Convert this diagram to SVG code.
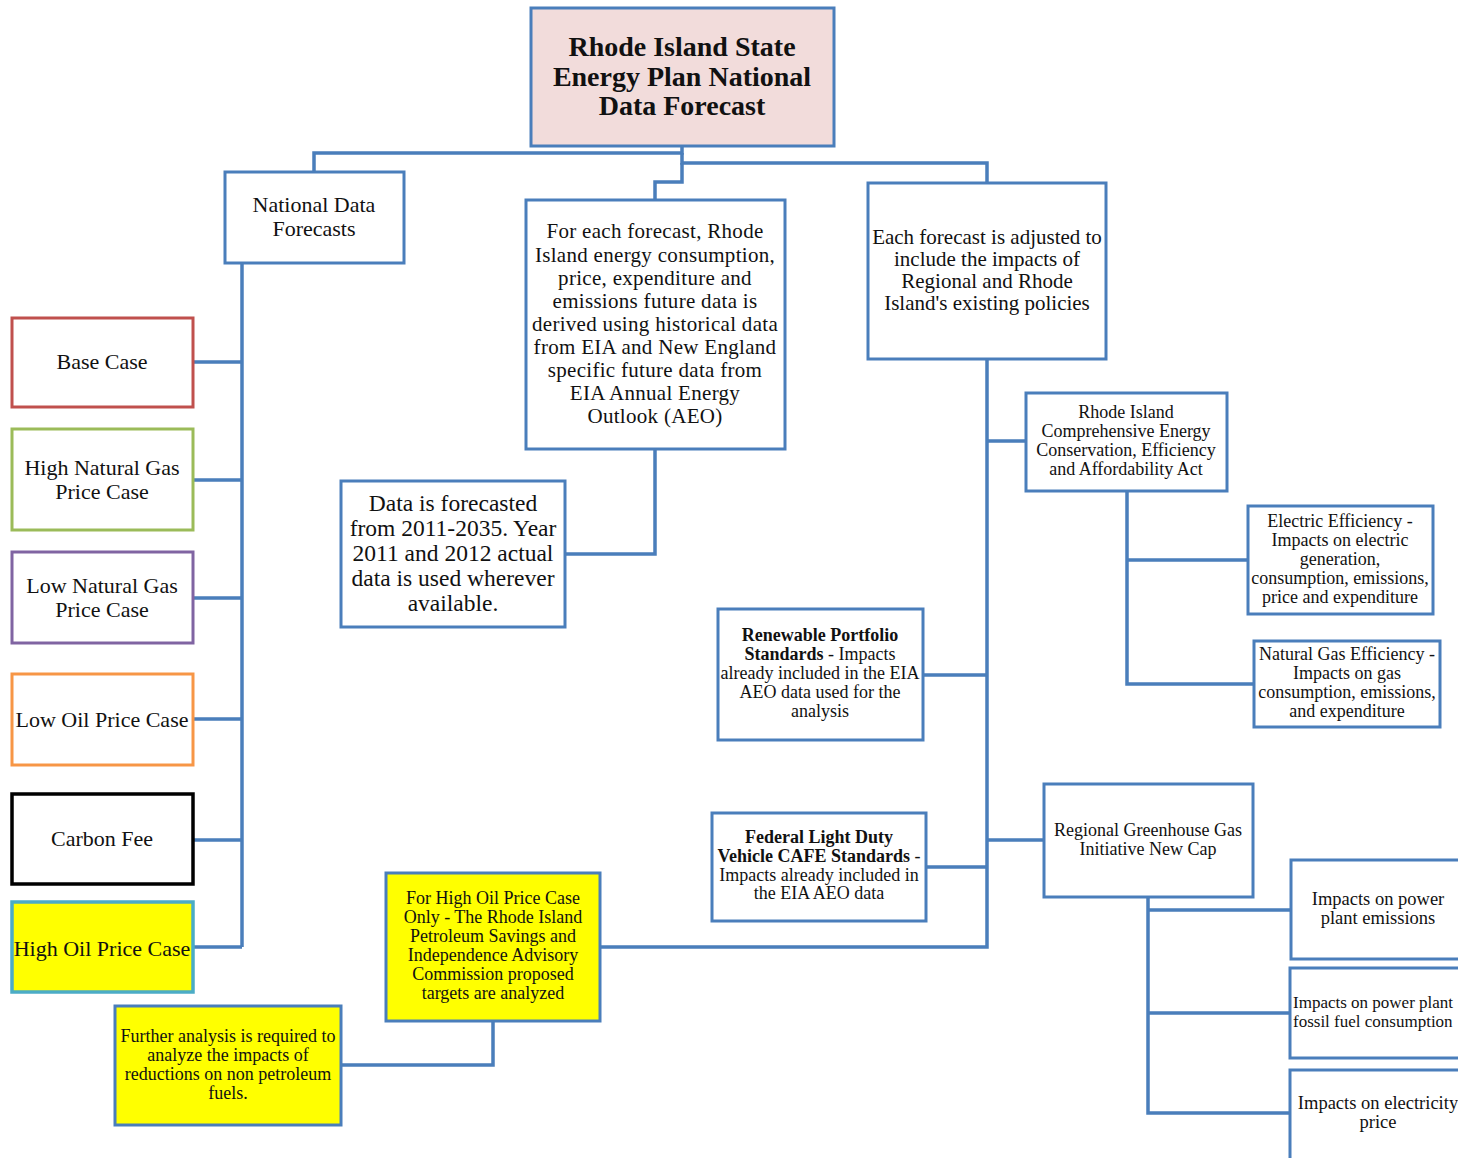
<svg xmlns="http://www.w3.org/2000/svg" width="1458" height="1158" viewBox="0 0 1458 1158">
<style>
.b{fill:#fff;stroke:#4A7EBB;stroke-width:3}
.y{fill:#FFFF00}
.c{fill:none;stroke:#4A7EBB;stroke-width:3.5;stroke-linejoin:miter}
text{font-family:"Liberation Serif","DejaVu Serif",serif;fill:#111;text-anchor:middle;dominant-baseline:central}
.t{font-size:28px;font-weight:bold}
.m{font-size:21px;letter-spacing:0.3px}
.r{font-size:21px}
.l{font-size:22px}
.s{font-size:18px}
.p{font-size:18.5px}
.q{font-size:17px;text-anchor:start}
.k{font-weight:bold}
</style>
<rect width="1458" height="1158" fill="#fff"/>
<g id="connectors">
<path class="c" d="M682,146V153H314V172"/>
<path class="c" d="M682,153V163H987V183"/>
<path class="c" d="M682,163V182H655V200"/>
<path class="c" d="M242,263V947"/>
<path class="c" d="M193,362H242M193,480H242M193,598H242M193,719H242M193,840H242M193,947H242"/>
<path class="c" d="M655,449V554H565"/>
<path class="c" d="M987,359V947H600"/>
<path class="c" d="M987,441H1026M923,675H987M987,840H1044M926,867H987"/>
<path class="c" d="M1127,491V684H1254M1127,560H1248"/>
<path class="c" d="M1148,897V1113H1290M1148,910H1291M1148,1013H1290"/>
<path class="c" d="M493,1021V1065H341"/>
</g>
<g id="title">
<rect x="531" y="8" width="303" height="138" fill="#F2DCDB" stroke="#4A7EBB" stroke-width="3"/>
<text class="t" x="682" y="46">Rhode Island State</text>
<text class="t" x="682" y="76">Energy Plan National</text>
<text class="t" x="682" y="105">Data Forecast</text>
</g>
<g id="national">
<rect class="b" x="225" y="172" width="179" height="91"/>
<text class="l" x="314" y="204">National Data</text>
<text class="l" x="314" y="228">Forecasts</text>
</g>
<g id="method">
<rect class="b" x="526" y="200" width="259" height="249"/>
<text class="m" x="655" y="231">For each forecast, Rhode</text>
<text class="m" x="655" y="255">Island energy consumption,</text>
<text class="m" x="655" y="278">price, expenditure and</text>
<text class="m" x="655" y="301">emissions future data is</text>
<text class="m" x="655" y="324">derived using historical data</text>
<text class="m" x="655" y="347">from EIA and New England</text>
<text class="m" x="655" y="370">specific future data from</text>
<text class="m" x="655" y="393">EIA Annual Energy</text>
<text class="m" x="655" y="416">Outlook (AEO)</text>
</g>
<g id="adjusted">
<rect class="b" x="868" y="183" width="238" height="176"/>
<text class="r" x="987" y="237">Each forecast is adjusted to</text>
<text class="r" x="987" y="259">include the impacts of</text>
<text class="r" x="987" y="281">Regional and Rhode</text>
<text class="r" x="987" y="303">Island's existing policies</text>
</g>
<g id="years">
<rect class="b" x="341" y="481" width="224" height="146"/>
<text x="453" y="503" font-size="23.5">Data is forecasted</text>
<text x="453" y="528" font-size="23.5">from 2011-2035. Year</text>
<text x="453" y="553" font-size="23.5">2011 and 2012 actual</text>
<text x="453" y="578" font-size="23.5">data is used wherever</text>
<text x="453" y="603" font-size="23.5">available.</text>
</g>
<g id="base">
<rect x="12" y="318" width="181" height="89" fill="#fff" stroke="#C0504D" stroke-width="3"/>
<text class="l" x="102" y="361">Base Case</text>
</g>
<g id="highgas">
<rect x="12" y="429" width="181" height="101" fill="#fff" stroke="#9BBB59" stroke-width="3"/>
<text class="l" x="102" y="467">High Natural Gas</text>
<text class="l" x="102" y="491">Price Case</text>
</g>
<g id="lowgas">
<rect x="12" y="552" width="181" height="91" fill="#fff" stroke="#8064A2" stroke-width="3"/>
<text class="l" x="102" y="585">Low Natural Gas</text>
<text class="l" x="102" y="609">Price Case</text>
</g>
<g id="lowoil">
<rect x="12" y="674" width="181" height="91" fill="#fff" stroke="#F79646" stroke-width="3"/>
<text class="l" x="102" y="719">Low Oil Price Case</text>
</g>
<g id="carbon">
<rect x="12" y="794" width="181" height="90" fill="#fff" stroke="#000" stroke-width="3.5"/>
<text class="l" x="102" y="838">Carbon Fee</text>
</g>
<g id="highoil">
<rect x="12" y="902" width="181" height="90" fill="#FFFF00" stroke="#4BACC6" stroke-width="3.5"/>
<text class="l" x="102" y="948">High Oil Price Case</text>
</g>
<g id="ricomp">
<rect class="b" x="1026" y="393" width="201" height="98"/>
<text class="s" x="1126" y="412">Rhode Island</text>
<text class="s" x="1126" y="431">Comprehensive Energy</text>
<text class="s" x="1126" y="450">Conservation, Efficiency</text>
<text class="s" x="1126" y="469">and Affordability Act</text>
</g>
<g id="electric">
<rect class="b" x="1248" y="506" width="185" height="108"/>
<text class="s" x="1340" y="521">Electric  Efficiency -</text>
<text class="s" x="1340" y="540">Impacts on electric</text>
<text class="s" x="1340" y="559">generation,</text>
<text class="s" x="1340" y="578">consumption, emissions,</text>
<text class="s" x="1340" y="597">price and expenditure</text>
</g>
<g id="natgas">
<rect class="b" x="1254" y="641" width="186" height="86"/>
<text class="s" x="1347" y="654">Natural Gas Efficiency -</text>
<text class="s" x="1347" y="673">Impacts on gas</text>
<text class="s" x="1347" y="692">consumption, emissions,</text>
<text class="s" x="1347" y="711">and  expenditure</text>
</g>
<g id="rps">
<rect class="b" x="718" y="609" width="205" height="131"/>
<text class="s" x="820" y="635"><tspan class="k">Renewable Portfolio</tspan></text>
<text class="s" x="820" y="654"><tspan class="k">Standards</tspan> - Impacts</text>
<text class="s" x="820" y="673">already included in the EIA</text>
<text class="s" x="820" y="692">AEO data used for the</text>
<text class="s" x="820" y="711">analysis</text>
</g>
<g id="cafe">
<rect class="b" x="712" y="813" width="214" height="108"/>
<text class="s" x="819" y="837"><tspan class="k">Federal Light Duty</tspan></text>
<text class="s" x="819" y="856"><tspan class="k">Vehicle CAFE Standards</tspan> -</text>
<text class="s" x="819" y="875">Impacts already included in</text>
<text class="s" x="819" y="893">the EIA AEO data</text>
</g>
<g id="rggi">
<rect class="b" x="1044" y="784" width="209" height="113"/>
<text class="s" x="1148" y="830">Regional Greenhouse Gas</text>
<text class="s" x="1148" y="849">Initiative New Cap</text>
</g>
<g id="emissions">
<rect class="b" x="1291" y="860" width="180" height="99"/>
<text class="p" x="1378" y="899">Impacts on power</text>
<text class="p" x="1378" y="918">plant emissions</text>
</g>
<g id="fossil">
<rect class="b" x="1290" y="968" width="180" height="90"/>
<text class="q" x="1293" y="1002">Impacts on power plant</text>
<text class="q" x="1293" y="1021">fossil fuel consumption</text>
</g>
<g id="price">
<rect class="b" x="1290" y="1070" width="180" height="100"/>
<text class="p" x="1378" y="1103">Impacts on electricity</text>
<text class="p" x="1378" y="1122">price</text>
</g>
<g id="psiac">
<rect class="b y" x="386" y="873" width="214" height="148"/>
<text class="s" x="493" y="898">For High Oil Price Case</text>
<text class="s" x="493" y="917">Only -  The Rhode Island</text>
<text class="s" x="493" y="936">Petroleum Savings and</text>
<text class="s" x="493" y="955">Independence Advisory</text>
<text class="s" x="493" y="974">Commission proposed</text>
<text class="s" x="493" y="993">targets are analyzed</text>
</g>
<g id="further">
<rect class="b y" x="115" y="1006" width="226" height="119"/>
<text class="s" x="228" y="1036">Further analysis is required to</text>
<text class="s" x="228" y="1055">analyze the impacts of</text>
<text class="s" x="228" y="1074">reductions on non petroleum</text>
<text class="s" x="228" y="1093">fuels.</text>
</g>
</svg>
